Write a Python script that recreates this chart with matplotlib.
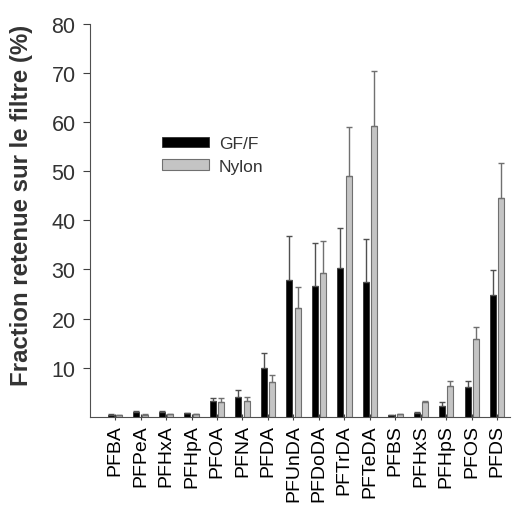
import numpy as np
import matplotlib
matplotlib.use("Agg")
import matplotlib.pyplot as plt

plt.rcParams['font.family'] = ['Liberation Sans', 'DejaVu Sans']

# composes (PFAS) and their retained fraction on each filter
compounds = ['PFBA', 'PFPeA', 'PFHxA', 'PFHpA', 'PFOA', 'PFNA', 'PFDA', 'PFUnDA',
             'PFDoDA', 'PFTrDA', 'PFTeDA', 'PFBS', 'PFHxS', 'PFHpS', 'PFOS', 'PFDS']
gff_mean = [0.4, 0.9, 0.9, 0.7, 3.3, 4.1, 10.0, 27.9, 26.7, 30.3, 27.5, 0.3, 0.8, 2.2, 6.0, 24.8]
gff_err = [0.1, 0.2, 0.2, 0.1, 0.6, 1.3, 3.0, 8.9, 8.6, 8.2, 8.8, 0.1, 0.1, 0.7, 1.3, 5.0]
nylon_mean = [0.3, 0.4, 0.5, 0.5, 3.0, 3.1, 7.1, 22.2, 29.2, 49.1, 59.3, 0.5, 3.0, 6.3, 15.9, 44.6]
nylon_err = [0.1, 0.1, 0.1, 0.1, 0.9, 0.9, 1.4, 4.3, 6.5, 9.9, 11.2, 0.1, 0.2, 0.9, 2.4, 7.0]

x = np.arange(len(compounds))
w = 0.235

fig = plt.figure(figsize=(5.12, 5.06), dpi=100)
ax = fig.add_axes([0.176, 0.1745, 0.82, 0.776])

#black bars for GF/F and light grey bars for Nylon, only upper error bars
ax.bar(x - 0.165, gff_mean, w, color='black', edgecolor='#303030', linewidth=0.6,
       yerr=[np.zeros(len(x)), gff_err], capsize=2.5,
       error_kw=dict(ecolor='#505050', elinewidth=1.0, capthick=1.0), label='GF/F')
ax.bar(x + 0.165, nylon_mean, w, color='#c4c4c4', edgecolor='#707070', linewidth=0.8,
       yerr=[np.zeros(len(x)), nylon_err], capsize=2.5,
       error_kw=dict(ecolor='#707070', elinewidth=1.0, capthick=1.0), label='Nylon')

ax.set_xlim(-0.98, 15.5)
ax.set_ylim(0, 80)
ax.set_yticks([10, 20, 30, 40, 50, 60, 70, 80])
ax.set_xticks(x)
ax.set_xticklabels(compounds, rotation=90, fontsize=14)
ax.tick_params(axis='y', labelsize=15.5, colors='#404040', length=5, pad=5.5)
ax.tick_params(axis='x', length=4, direction='inout', color='#404040', labelcolor='black')
for lab in ax.get_yticklabels():
    lab.set_color('#333333')

ax.spines['top'].set_visible(False)
ax.spines['right'].set_visible(False)
ax.spines['left'].set_color('#505050')
ax.spines['bottom'].set_color('#505050')

ax.set_ylabel('Fraction retenue sur le filtre (%)', fontsize=17.3, fontweight='bold',
              color='#333333')
ax.yaxis.set_label_coords(-0.137, 0.54)

leg = ax.legend(loc='upper left', bbox_to_anchor=(0.135, 0.755), frameon=False,
                fontsize=12.5, handlelength=2.7, handleheight=0.55, handletextpad=0.55,
                labelspacing=0.45)
for t in leg.get_texts():
    t.set_color('#333333')

plt.savefig('out.png', dpi=100)
